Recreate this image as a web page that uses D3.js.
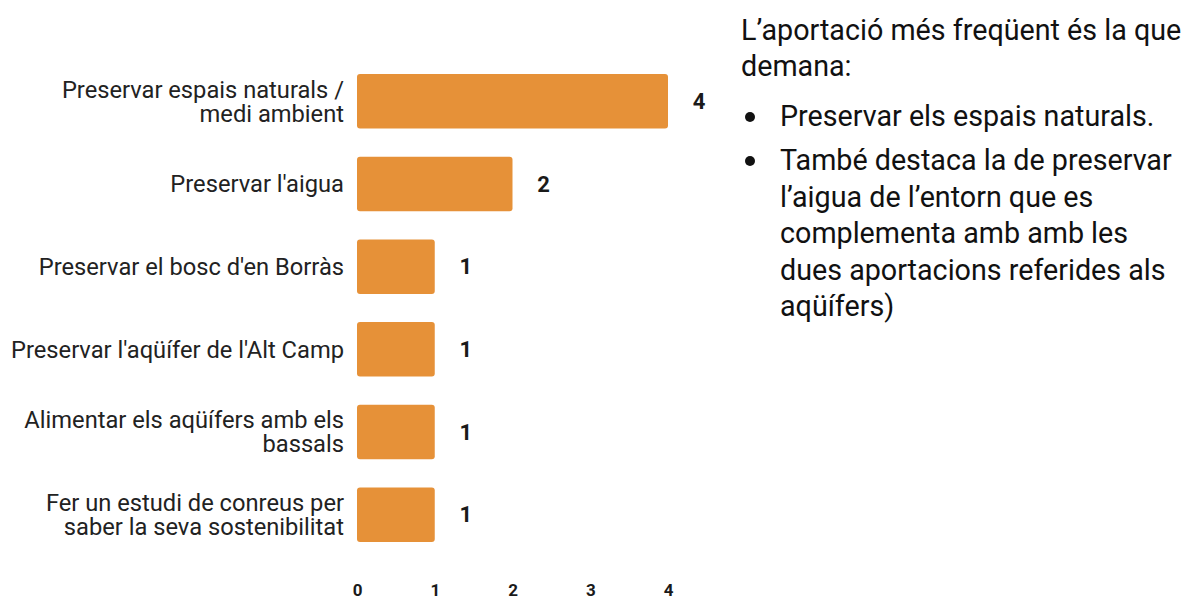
<!DOCTYPE html>
<html>
<head>
<meta charset="utf-8">
<script src="https://cdn.jsdelivr.net/npm/d3@7"></script>
<style>
  html, body { margin: 0; padding: 0; background: #fff; }
  svg { display: block; font-family: Roboto, sans-serif; }
</style>
</head>
<body>
<div id="chart"></div>
<script>
const categories = [
  ['Preservar espais naturals /', 'medi ambient'],
  ["Preservar l'aigua"],
  ["Preservar el bosc d'en Borràs"],
  ["Preservar l'aqüífer de l'Alt Camp"],
  ['Alimentar els aqüífers amb els', 'bassals'],
  ['Fer un estudi de conreus per', 'saber la seva sostenibilitat']
];
const values = [4, 2, 1, 1, 1, 1];
const xTicks = [0, 1, 2, 3, 4];
const introLines = ['L\u2019aportació més freqüent és la que', 'demana:'];
const bullets = [
  ['Preservar els espais naturals.'],
  ['També destaca la de preservar', 'l\u2019aigua de l\u2019entorn que es', 'complementa amb amb les', 'dues aportacions referides als', 'aqüífers)']
];

const W = 1189, H = 597;
const svg = d3.select('#chart').append('svg').attr('width', W).attr('height', H);

const x = d3.scaleLinear().domain([0, 4]).range([357, 668]);
const y = d3.scaleBand().domain(d3.range(categories.length)).range([60, 556]).paddingInner(0.34).paddingOuter(0.17);

const g = svg.append('g');

g.selectAll('.bar')
  .data(values)
  .enter()
  .append('rect')
  .attr('class', 'bar')
  .attr('x', x(0))
  .attr('y', (d, i) => y(i))
  .attr('width', d => x(d) - x(0))
  .attr('height', y.bandwidth())
  .attr('rx', 3).attr('ry', 3)
  .attr('fill', '#e69138');

g.selectAll('.val')
  .data(values)
  .enter()
  .append('text')
  .attr('class', 'val')
  .attr('x', d => x(d) + 31)
  .attr('y', (d, i) => y(i) + y.bandwidth() / 2)
  .attr('dy', '0.35em')
  .attr('text-anchor', 'middle')
  .attr('font-size', 22)
  .attr('font-weight', 700)
  .attr('fill', '#1a1a1a')
  .text(d => d);

const lineH = 24;
categories.forEach((lines, i) => {
  const cy = y(i) + y.bandwidth() / 2;
  const t = g.append('text')
    .attr('text-anchor', 'end')
    .attr('font-size', 23.7)
    .attr('fill', '#222');
  lines.forEach((ln, j) => {
    t.append('tspan')
      .attr('x', 344)
      .attr('y', cy + (j - (lines.length - 1) / 2) * lineH)
      .attr('dy', '0.35em')
      .text(ln);
  });
});

const xAxis = g.append('g')
  .attr('transform', 'translate(0,596)')
  .call(d3.axisBottom(x).tickValues(xTicks).tickSize(0).tickPadding(0).tickFormat(d3.format('d')));
xAxis.select('.domain').remove();
xAxis.selectAll('text')
  .attr('dy', 0)
  .attr('font-family', 'Roboto, sans-serif')
  .attr('font-size', 17)
  .attr('font-weight', 700)
  .attr('fill', '#1a1a1a');

// side note text
const note = svg.append('g').attr('font-size', 28.7).attr('fill', '#111');
introLines.forEach((ln, j) => {
  note.append('text').attr('x', 741).attr('y', 30 + j * 36).attr('dy', '0.35em').text(ln);
});
let yy = 116;
bullets.forEach(b => {
  note.append('circle').attr('cx', 750).attr('cy', yy + 1).attr('r', 5).attr('fill', '#111');
  b.forEach((ln, j) => {
    note.append('text').attr('x', 780).attr('y', yy + j * 36.5).attr('dy', '0.35em').text(ln);
  });
  yy += 44;
});
</script>
</body>
</html>
